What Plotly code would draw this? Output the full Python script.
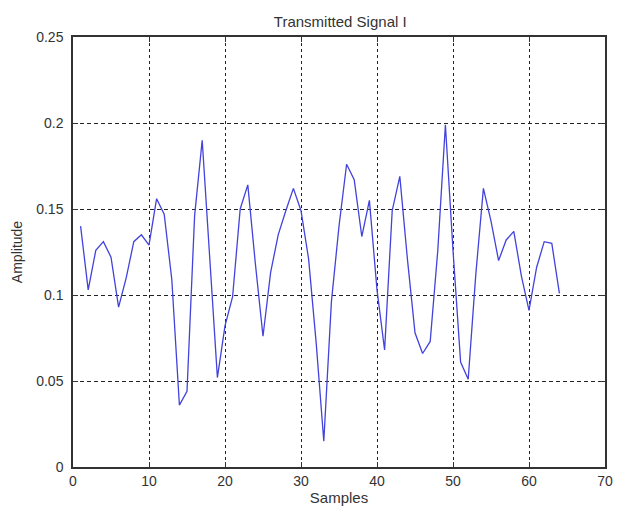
import plotly.graph_objects as go

samples = list(range(1, 65))
amplitude = [0.140, 0.103, 0.126, 0.131, 0.122, 0.093, 0.110, 0.131, 0.135, 0.129,
             0.156, 0.147, 0.109, 0.036, 0.044, 0.146, 0.190, 0.120, 0.052, 0.082,
             0.099, 0.150, 0.164, 0.118, 0.076, 0.113, 0.135, 0.149, 0.162, 0.149,
             0.121, 0.072, 0.015, 0.096, 0.140, 0.176, 0.167, 0.134, 0.155, 0.103,
             0.068, 0.149, 0.169, 0.121, 0.078, 0.066, 0.073, 0.126, 0.199, 0.126,
             0.061, 0.051, 0.112, 0.162, 0.143, 0.120, 0.132, 0.137, 0.111, 0.091,
             0.116, 0.131, 0.130, 0.101]
x_ticks = [0, 10, 20, 30, 40, 50, 60, 70]
y_ticks = [0, 0.05, 0.1, 0.15, 0.2, 0.25]
y_tick_labels = ["0", "0.05", "0.1", "0.15", "0.2", "0.25"]

fig = go.Figure()
fig.add_trace(go.Scatter(x=samples, y=amplitude, mode="lines",
                         line=dict(color="#4242dc", width=1.3)))

fam = "Liberation Sans, Arial, sans-serif"
tickfont = dict(family=fam, size=14, color="#333333")
fig.update_layout(
    width=613, height=505,
    margin=dict(l=65, r=8, t=29, b=46),
    paper_bgcolor="white", plot_bgcolor="white",
    showlegend=False,
    font=dict(family=fam, size=13, color="#333333"),
    title=dict(text="Transmitted Signal I", x=0.542, xanchor="center", y=0.972, yanchor="middle",
               font=dict(family=fam, size=15, color="#333333")),
)
fig.update_xaxes(
    range=[0, 70], tickmode="array", tickvals=x_ticks,
    showline=True, linecolor="#333333", linewidth=1.5, mirror="ticks",
    ticks="inside", ticklen=5, tickcolor="#333333",
    showgrid=True, gridcolor="#222222", gridwidth=1, griddash="dot",
    zeroline=False,
    title=dict(text="Samples", standoff=5, font=dict(family=fam, size=15, color="#333333")),
    tickfont=tickfont,
)
fig.update_yaxes(
    range=[0, 0.25], tickmode="array", tickvals=y_ticks, ticktext=y_tick_labels,
    showline=True, linecolor="#333333", linewidth=1.5, mirror="ticks",
    ticks="inside", ticklen=5, tickcolor="#333333",
    showgrid=True, gridcolor="#222222", gridwidth=1, griddash="4px,3px",
    zeroline=False, ticklabelstandoff=5,
    title=dict(text="Amplitude", standoff=10, font=dict(family=fam, size=14, color="#333333")),
    tickfont=tickfont,
)

fig.write_html("out.html")
